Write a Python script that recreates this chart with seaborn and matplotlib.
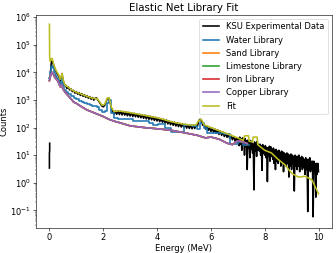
import numpy as np
import pandas as pd
import matplotlib
matplotlib.use("Agg")
import matplotlib.pyplot as plt
import seaborn as sns

# ---------------- data ----------------
# KSU experimental data: short isolated trace at E=0
ksu_spike_energy = [0.0, 0.0, 0.01, 0.01]
ksu_spike_counts = [3.4, 12, 14, 27]

ksu_energy = [
    0.04, 0.07, 0.10, 0.14, 0.18, 0.22, 0.26, 0.30, 0.35, 0.40, 0.44, 0.47, 0.50, 0.55,
    0.60, 0.65, 0.70, 0.75, 0.80, 0.85, 0.90, 0.95, 1.00, 1.05, 1.10, 1.15, 1.20, 1.25,
    1.30, 1.35, 1.40, 1.45, 1.50, 1.55, 1.60, 1.65, 1.70, 1.75, 1.80, 1.85, 1.90, 1.95,
    2.00, 2.05, 2.10, 2.15, 2.20, 2.25, 2.30, 2.35,
    2.40, 2.45, 2.50, 2.55, 2.60, 2.65, 2.70, 2.75, 2.80, 2.85, 2.90, 2.95,
    3.00, 3.05, 3.10, 3.15, 3.20, 3.25, 3.30, 3.35, 3.40, 3.45, 3.50, 3.55,
    3.60, 3.65, 3.70, 3.75, 3.80, 3.85, 3.90, 3.95, 4.00, 4.05, 4.10, 4.15,
    4.20, 4.25, 4.30, 4.35, 4.40, 4.45, 4.50, 4.55, 4.60, 4.65, 4.70, 4.75,
    4.80, 4.85, 4.90, 4.95, 5.00, 5.05, 5.10, 5.15, 5.20, 5.25, 5.30, 5.35,
    5.40, 5.45, 5.50, 5.55, 5.60, 5.65, 5.70, 5.75, 5.80, 5.85, 5.90, 5.95,
    6.00, 6.05, 6.10, 6.15, 6.20, 6.25, 6.30, 6.35, 6.40, 6.45, 6.50, 6.55,
    6.60, 6.65, 6.70, 6.75, 6.80, 6.85, 6.90, 6.95, 7.00,
    7.025, 7.050, 7.075, 7.100, 7.125, 7.150, 7.175, 7.200,
    7.225, 7.250, 7.275, 7.300, 7.325, 7.350, 7.375, 7.400,
    7.425, 7.450, 7.475, 7.500, 7.525, 7.550, 7.575, 7.600,
    7.625, 7.650, 7.675, 7.700, 7.725, 7.750, 7.775, 7.800,
    7.825, 7.850, 7.875, 7.900, 7.925, 7.950, 7.975, 8.000,
    8.025, 8.050, 8.075, 8.100, 8.125, 8.150, 8.175, 8.200,
    8.225, 8.250, 8.275, 8.300, 8.325, 8.350, 8.375, 8.400,
    8.425, 8.450, 8.475, 8.500, 8.525, 8.550, 8.575, 8.600,
    8.625, 8.650, 8.675, 8.700, 8.725, 8.750, 8.775, 8.800,
    8.825, 8.850, 8.875, 8.900, 8.925, 8.950, 8.975, 9.000,
    9.025, 9.050, 9.075, 9.100, 9.125, 9.150, 9.175, 9.200,
    9.225, 9.250, 9.275, 9.300, 9.325, 9.350, 9.375, 9.400,
    9.425, 9.450, 9.475, 9.500, 9.525, 9.550, 9.575, 9.600,
    9.625, 9.650, 9.675, 9.700, 9.725, 9.750, 9.775, 9.800,
    9.825, 9.850, 9.875, 9.900, 9.925, 9.950, 9.975, 10.000,
]
ksu_counts = [
    10000, 22000, 26000, 20000, 15000, 12000, 10000, 8500, 7000, 4800, 6500, 9000, 5500, 3600,
    3400, 2600, 3000, 2300, 2500, 2000, 2200, 1750, 2000, 1600, 1850, 1450, 1700, 1350,
    1550, 1250, 1420, 1150, 1320, 1060, 1220, 980, 1150, 1180, 1000, 850, 720, 600,
    560, 620, 820, 1100, 1150, 880, 500, 370,
    300, 390, 300, 395, 295, 385, 285, 375, 280, 365, 265, 350,
    260, 340, 250, 325, 245, 315, 235, 300, 225, 290, 215, 280,
    205, 268, 198, 255, 190, 245, 180, 232, 172, 222, 162, 210,
    155, 198, 145, 185, 135, 172, 126, 163, 120, 155, 113, 148,
    108, 140, 104, 135, 99, 130, 95, 125, 92, 122, 90, 120,
    92, 125, 110, 175, 200, 165, 120, 130, 88, 110, 78, 100,
    72, 95, 66, 88, 62, 82, 56, 75, 52, 68, 47, 62,
    44, 57, 40, 52, 36, 47, 32, 42, 30,
    40, 22, 45, 25, 38, 15, 42, 24,
    36, 10, 40, 20, 33, 3, 35, 18,
    30, 8, 34, 16, 28, 12, 25, 0.55,
    30, 14, 26, 9, 32, 15, 24, 14,
    25, 10, 22, 2.8, 24, 12, 20, 10,
    22, 8, 19, 1.1, 18, 9, 21, 6,
    20, 9, 16, 7, 18, 5, 15, 3,
    16, 6, 14, 5, 15, 7, 12, 4,
    14, 6, 13, 2.5, 12, 5, 11, 4,
    12, 5, 11, 1.6, 10, 4, 11, 3,
    10, 5, 9, 0.5, 10, 4, 9, 3,
    9, 4, 10, 2.5, 8, 4, 9, 3,
    8, 3.5, 7, 2, 8, 3, 7, 0.09,
    7, 3, 8, 2.5, 6, 3, 6, 0.058,
    6, 2.5, 5, 0.3, 5, 2, 5, 2.5,
]

water_energy = [
    0.00, 0.03, 0.07, 0.10, 0.14, 0.18, 0.22, 0.26, 0.30, 0.35, 0.40, 0.44, 0.47, 0.50,
    0.55, 0.60, 0.70, 0.80, 0.90, 1.00, 1.10, 1.20, 1.30, 1.40, 1.50, 1.60, 1.70, 1.78,
    1.85, 1.95, 2.05, 2.15, 2.22, 2.30, 2.40, 2.55, 2.85, 3.10, 3.40, 3.70, 3.85, 4.05,
    4.30, 4.50, 5.00, 5.30, 5.50, 5.60, 5.75, 5.85, 6.10, 6.50, 6.70, 7.00, 7.20, 7.40,
]
water_counts = [
    6000, 10000, 15000, 17000, 14000, 10000, 8000, 6500, 5500, 4500, 3200, 4200, 5500, 3600,
    2300, 1900, 1600, 1350, 1200, 1050, 950, 860, 780, 700, 650, 600, 580, 560,
    440, 350, 380, 760, 1000, 330, 230, 195, 200, 165, 170, 150, 120, 130,
    95, 70, 120, 110, 90, 140, 100, 65, 62, 58, 26, 30, 24, 24,
]

copper_energy = [
    0.00, 0.05, 0.10, 0.15, 0.20, 0.30, 0.35, 0.40, 0.45, 0.50, 0.60, 0.80, 0.90, 1.00,
    1.20, 1.40, 1.60, 1.80, 2.00, 2.20, 2.40, 2.60, 3.00, 3.50, 4.00, 4.50, 5.00, 5.50,
    5.80, 6.00, 6.30, 6.60, 6.80, 7.00, 7.20, 7.35,
]
copper_counts = [
    5000, 8000, 10000, 8500, 6500, 5000, 4000, 3000, 3500, 2500, 1800, 1100, 830, 750,
    560, 430, 360, 300, 250, 200, 170, 150, 115, 100, 90, 80, 65, 52,
    42, 45, 38, 27, 24, 33, 30, 26,
]

# sand, limestone and iron libraries lie underneath the copper curve
sand_energy, sand_counts = copper_energy, copper_counts
limestone_energy, limestone_counts = copper_energy, copper_counts
iron_energy, iron_counts = copper_energy, copper_counts

fit_energy = [
    0.000, 0.010, 0.030, 0.07, 0.10, 0.14, 0.18, 0.22, 0.26, 0.30, 0.35, 0.40, 0.44, 0.47,
    0.50, 0.55, 0.60, 0.70, 0.80, 0.90, 1.00, 1.20, 1.40, 1.60, 1.78, 1.85, 1.95, 2.05,
    2.15, 2.22, 2.30, 2.40, 2.60, 2.80, 3.00, 3.25, 3.50, 3.75, 4.00, 4.25, 4.50, 4.75,
    5.00, 5.25, 5.45, 5.55, 5.65, 5.75, 6.00, 6.25, 6.50, 6.75, 7.00, 7.20, 7.25, 7.40,
    7.42, 7.55, 7.57, 7.72, 7.74, 8.00, 8.25, 8.50, 8.75, 9.00, 9.25, 9.50, 9.75, 10.00,
]
fit_counts = [
    550000, 35000, 25000, 30000, 32000, 23000, 17000, 13500, 11000, 9500, 7800, 5500, 7000, 9000,
    6000, 4000, 3300, 2900, 2400, 2100, 1900, 1600, 1350, 1150, 1100, 900, 650, 680,
    1150, 1200, 550, 380, 400, 370, 345, 310, 280, 250, 225, 195, 165, 145,
    132, 122, 125, 180, 195, 125, 100, 80, 65, 52, 42, 34, 50, 50,
    32, 30, 45, 45, 24, 15, 12, 7, 4.5, 2.2, 1.6, 1.7, 1.3, 0.4,
]

x_ticks = [0, 2, 4, 6, 8, 10]

# ---------------- plot ----------------
plt.rcParams.update({
    "font.size": 11.5,
    "axes.titlesize": 14,
    "axes.labelsize": 11.5,
    "xtick.labelsize": 11.5,
    "ytick.labelsize": 11.5,
    "legend.fontsize": 11.5,
})

fig, ax = plt.subplots(figsize=(6.4, 4.82), dpi=52.5)
fig.subplots_adjust(left=0.107, right=0.988, top=0.941, bottom=0.099)

series = [
    ("KSU Experimental Data", ksu_energy, ksu_counts, "black", None),
    ("Water Library", water_energy, water_counts, "#1f77b4", "steps-post"),
    ("Sand Library", sand_energy, sand_counts, "#ff7f0e", None),
    ("Limestone Library", limestone_energy, limestone_counts, "#2ca02c", None),
    ("Iron Library", iron_energy, iron_counts, "#d62728", None),
    ("Copper Library", copper_energy, copper_counts, "#9467bd", None),
    ("Fit", fit_energy, fit_counts, "#bcbd22", None),
]

lw = 2.2
spike = pd.DataFrame({"E": ksu_spike_energy, "C": ksu_spike_counts})
sns.lineplot(data=spike, x="E", y="C", ax=ax, color="black", sort=False,
             estimator=None, linewidth=lw, legend=False)

for name, e, c, col, ds in series:
    df = pd.DataFrame({"E": e, "C": c})
    kw = {}
    if ds:
        kw["drawstyle"] = ds
    sns.lineplot(data=df, x="E", y="C", ax=ax, color=col, sort=False,
                 estimator=None, linewidth=lw, label=name, **kw)

ax.set_yscale("log")
ax.set_ylim(0.023, 1.2e6)
ax.set_xlim(-0.5, 10.5)
ax.set_xticks(x_ticks)
ax.set_title("Elastic Net Library Fit")
ax.set_xlabel("Energy (MeV)", labelpad=2)
ax.set_ylabel("Counts", labelpad=2)
ax.legend(loc="upper right")
fig.savefig("out.png", dpi=52.5)
